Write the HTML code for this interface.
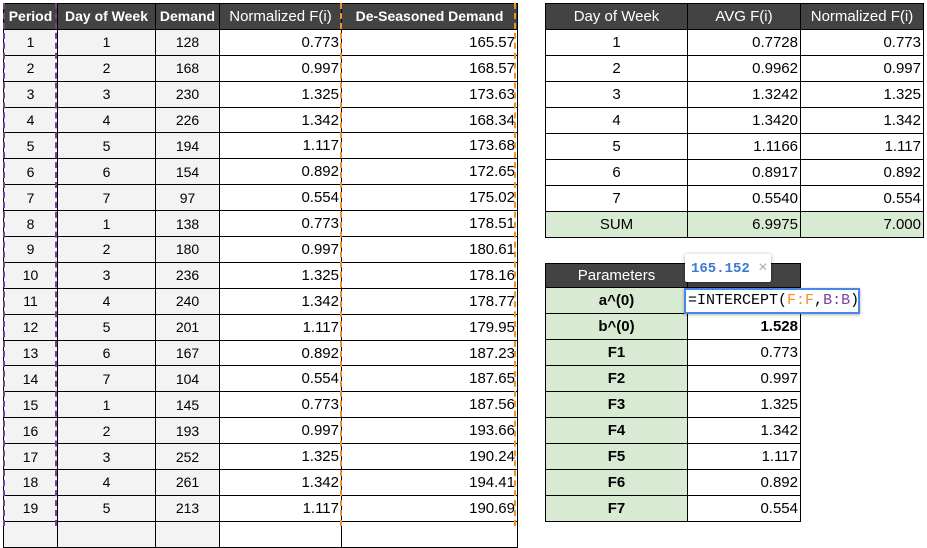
<!DOCTYPE html>
<html><head><meta charset="utf-8"><style>
body{margin:0;width:927px;height:526px;background:#fff;overflow:hidden;position:relative;font-family:"Liberation Sans",Arial,sans-serif;}
table{position:absolute;border-collapse:collapse;table-layout:fixed;}
td{border:1px solid #000;padding:0 2px;font-size:15px;white-space:nowrap;overflow:hidden;}
th{background:#434343;color:#fff;font-weight:bold;border:1px solid #000;font-size:15px;padding:0 2px;white-space:nowrap;overflow:hidden}
#L td,#L th{height:24.9px;}
#L th{font-size:14px;}
#L td.g{background:#f3f3f3;text-align:center;font-size:14px;}
#L td.r{text-align:right;}
#R td,#R th{height:25px;}
#R td.c{text-align:center}#R td.r{text-align:right}
.s td{background:#d9ead3}
#P td{height:25px;}
#P th{height:23px;}
#P td.l{background:#d9ead3;text-align:center;font-weight:bold}
#P td.r{text-align:right}
.pd{position:absolute;top:3px;height:523px;border-left:2px dashed #7b3f9e}
.od{position:absolute;top:3px;height:523px;border-left:2px dashed #f0902a}
#tip{position:absolute;left:685px;top:254px;width:86px;height:28px;background:#fff;box-shadow:0 1px 4px rgba(0,0,0,.35);border-radius:2px;font-family:"Liberation Mono",monospace;font-size:14px;font-weight:bold;color:#3c78d8;line-height:28px;padding-left:6px;box-sizing:border-box;white-space:nowrap}
#tip span{color:#aaa;font-weight:normal;font-family:"Liberation Sans",sans-serif;font-size:16px}
#ed{position:absolute;left:684px;top:288px;width:176px;height:26px;border:2px solid #4a86e8;background:#fff;box-sizing:border-box;font-family:"Liberation Mono",monospace;font-size:15px;line-height:22px;padding-left:2px;box-shadow:0 1px 3px rgba(0,0,0,.3)}
</style></head><body>
<table id="L" style="left:3px;top:3px;width:514px">
<colgroup><col style="width:54px"><col style="width:98px"><col style="width:64px"><col style="width:122px"><col style="width:176px"></colgroup>
<tr><th>Period</th><th>Day of Week</th><th>Demand</th><th style="font-weight:normal;font-size:15px">Normalized F(i)</th><th>De-Seasoned Demand</th></tr>
<tr><td class="g">1</td><td class="g">1</td><td class="g">128</td><td class="r">0.773</td><td class="r">165.57</td></tr>
<tr><td class="g">2</td><td class="g">2</td><td class="g">168</td><td class="r">0.997</td><td class="r">168.57</td></tr>
<tr><td class="g">3</td><td class="g">3</td><td class="g">230</td><td class="r">1.325</td><td class="r">173.63</td></tr>
<tr><td class="g">4</td><td class="g">4</td><td class="g">226</td><td class="r">1.342</td><td class="r">168.34</td></tr>
<tr><td class="g">5</td><td class="g">5</td><td class="g">194</td><td class="r">1.117</td><td class="r">173.68</td></tr>
<tr><td class="g">6</td><td class="g">6</td><td class="g">154</td><td class="r">0.892</td><td class="r">172.65</td></tr>
<tr><td class="g">7</td><td class="g">7</td><td class="g">97</td><td class="r">0.554</td><td class="r">175.02</td></tr>
<tr><td class="g">8</td><td class="g">1</td><td class="g">138</td><td class="r">0.773</td><td class="r">178.51</td></tr>
<tr><td class="g">9</td><td class="g">2</td><td class="g">180</td><td class="r">0.997</td><td class="r">180.61</td></tr>
<tr><td class="g">10</td><td class="g">3</td><td class="g">236</td><td class="r">1.325</td><td class="r">178.16</td></tr>
<tr><td class="g">11</td><td class="g">4</td><td class="g">240</td><td class="r">1.342</td><td class="r">178.77</td></tr>
<tr><td class="g">12</td><td class="g">5</td><td class="g">201</td><td class="r">1.117</td><td class="r">179.95</td></tr>
<tr><td class="g">13</td><td class="g">6</td><td class="g">167</td><td class="r">0.892</td><td class="r">187.23</td></tr>
<tr><td class="g">14</td><td class="g">7</td><td class="g">104</td><td class="r">0.554</td><td class="r">187.65</td></tr>
<tr><td class="g">15</td><td class="g">1</td><td class="g">145</td><td class="r">0.773</td><td class="r">187.56</td></tr>
<tr><td class="g">16</td><td class="g">2</td><td class="g">193</td><td class="r">0.997</td><td class="r">193.66</td></tr>
<tr><td class="g">17</td><td class="g">3</td><td class="g">252</td><td class="r">1.325</td><td class="r">190.24</td></tr>
<tr><td class="g">18</td><td class="g">4</td><td class="g">261</td><td class="r">1.342</td><td class="r">194.41</td></tr>
<tr><td class="g">19</td><td class="g">5</td><td class="g">213</td><td class="r">1.117</td><td class="r">190.69</td></tr>
<tr><td class="g"></td><td class="g"></td><td class="g"></td><td class="r"></td><td class="r"></td></tr>
</table>
<div class="pd" style="left:3px"></div><div class="pd" style="left:55px"></div>
<div class="od" style="left:340px"></div><div class="od" style="left:514px"></div>

<table id="R" style="left:545px;top:3px;width:378px">
<colgroup><col style="width:142px"><col style="width:113px"><col style="width:123px"></colgroup>
<tr><th style="font-weight:normal">Day of Week</th><th style="font-weight:normal">AVG F(i)</th><th style="font-weight:normal">Normalized F(i)</th></tr>
<tr><td class="c">1</td><td class="r">0.7728</td><td class="r">0.773</td></tr>
<tr><td class="c">2</td><td class="r">0.9962</td><td class="r">0.997</td></tr>
<tr><td class="c">3</td><td class="r">1.3242</td><td class="r">1.325</td></tr>
<tr><td class="c">4</td><td class="r">1.3420</td><td class="r">1.342</td></tr>
<tr><td class="c">5</td><td class="r">1.1166</td><td class="r">1.117</td></tr>
<tr><td class="c">6</td><td class="r">0.8917</td><td class="r">0.892</td></tr>
<tr><td class="c">7</td><td class="r">0.5540</td><td class="r">0.554</td></tr>
<tr class="s"><td class="c">SUM</td><td class="r">6.9975</td><td class="r">7.000</td></tr>
</table>

<table id="P" style="left:545px;top:263px;width:255px">
<colgroup><col style="width:142px"><col style="width:113px"></colgroup>
<tr><th style="font-weight:normal">Parameters</th><th></th></tr>
<tr><td class="l">a^(0)</td><td class="r"></td></tr>
<tr><td class="l">b^(0)</td><td class="r"><b>1.528</b></td></tr>
<tr><td class="l">F1</td><td class="r">0.773</td></tr>
<tr><td class="l">F2</td><td class="r">0.997</td></tr>
<tr><td class="l">F3</td><td class="r">1.325</td></tr>
<tr><td class="l">F4</td><td class="r">1.342</td></tr>
<tr><td class="l">F5</td><td class="r">1.117</td></tr>
<tr><td class="l">F6</td><td class="r">0.892</td></tr>
<tr><td class="l">F7</td><td class="r">0.554</td></tr>
</table>

<div id="tip">165.152&nbsp;<span>×</span></div>
<div id="ed">=INTERCEPT(<span style="color:#f0902a">F:F</span>,<span style="color:#7b3f9e">B:B</span>)</div>
</body></html>
